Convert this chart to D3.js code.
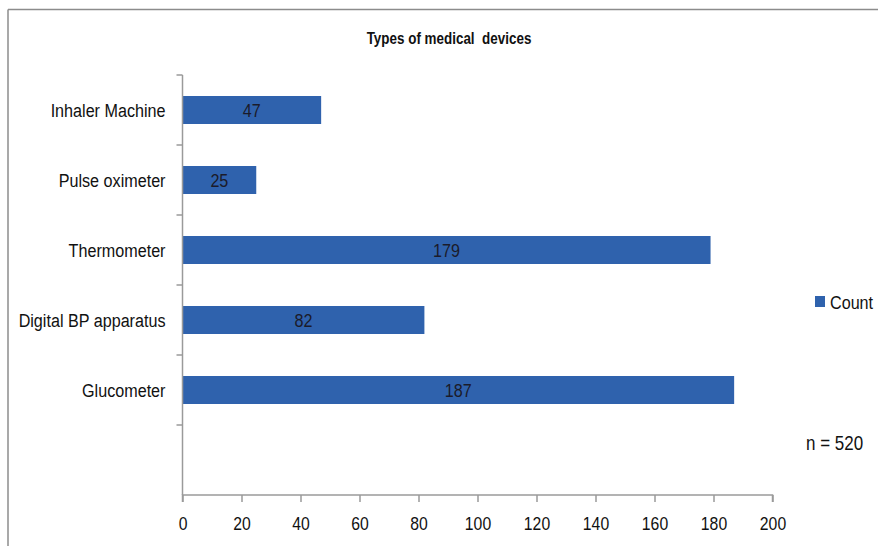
<!DOCTYPE html>
<html>
<head>
<meta charset="utf-8">
<script src="https://cdn.jsdelivr.net/npm/d3@7"></script>
<style>
  html, body { margin: 0; padding: 0; background: #fff; }
  svg { display: block; }
</style>
</head>
<body>
<svg id="chart" width="878" height="546"></svg>
<script>
// Device categories, bottom-to-top order in the plot (first slot is left empty)
const categories = ["", "Glucometer", "Digital BP apparatus", "Thermometer", "Pulse oximeter", "Inhaler Machine"];
const counts = [null, 187, 82, 179, 25, 47];
const xTicks = [0, 20, 40, 60, 80, 100, 120, 140, 160, 180, 200];
const title = "Types of medical  devices";
const seriesName = "Count";
const note = "n = 520";

const W = 878, H = 546;
const labelFont = "'Liberation Sans', Arial, sans-serif";
const barColor = "#2f62ad";
const axisColor = "#9a9a9a";

// Condense a text element horizontally about its anchor x position
function condense(sel, s) {
  sel.each(function () {
    const t = d3.select(this);
    const ax = +t.attr("x") || 0;
    t.attr("transform", `translate(${ax},0) scale(${s},1) translate(${-ax},0)`);
  });
}

const svg = d3.select("#chart");

// Frame lines along top and left
svg.append("line").attr("x1", 8).attr("x2", W).attr("y1", 9.5).attr("y2", 9.5)
  .attr("stroke", "#8c8c8c").attr("stroke-width", 1.5);
svg.append("line").attr("x1", 8).attr("x2", 8).attr("y1", 9.5).attr("y2", H)
  .attr("stroke", "#8c8c8c").attr("stroke-width", 1.5);

const plot = { left: 182.5, right: 772.5, top: 75, bottom: 495 };

const x = d3.scaleLinear().domain([0, 200]).range([plot.left, plot.right]);
const yBand = d3.scaleBand().domain(categories.map((c, i) => i))
  .range([plot.bottom, plot.top]);

// Title
svg.append("text")
  .attr("x", 449).attr("y", 38).attr("dy", "0.35em")
  .attr("text-anchor", "middle")
  .attr("font-family", labelFont)
  .attr("font-weight", "bold").attr("font-size", 16).attr("fill", "#111")
  .attr("xml:space", "preserve")
  .text(title)
  .call(condense, 0.84);

// Bars
const bars = categories.map((c, i) => ({ i, c, v: counts[i] })).filter(d => d.v != null);
const barH = 28;
svg.append("g").selectAll("rect").data(bars).join("rect")
  .attr("x", x(0))
  .attr("y", d => yBand(d.i) + yBand.bandwidth() / 2 - barH / 2)
  .attr("width", d => x(d.v) - x(0))
  .attr("height", barH)
  .attr("fill", barColor);

// Value labels centred in each bar
svg.append("g").selectAll("text").data(bars).join("text")
  .attr("x", d => (x(0) + x(d.v)) / 2)
  .attr("y", d => yBand(d.i) + yBand.bandwidth() / 2)
  .attr("dy", "0.35em").attr("text-anchor", "middle")
  .attr("font-family", labelFont).attr("font-size", 19).attr("fill", "#1b1b2a")
  .text(d => d.v)
  .call(condense, 0.85);

// Category axis: ticks at band boundaries
const yAxisG = svg.append("g");
yAxisG.append("line").attr("x1", plot.left).attr("x2", plot.left)
  .attr("y1", plot.top).attr("y2", plot.bottom).attr("stroke", axisColor).attr("stroke-width", 1.5);
const boundaries = categories.map((c, i) => yBand(i));
yAxisG.selectAll("line.tk").data(boundaries).join("line").attr("class", "tk")
  .attr("x1", plot.left - 6).attr("x2", plot.left)
  .attr("y1", d => d).attr("y2", d => d)
  .attr("stroke", axisColor).attr("stroke-width", 1.5);
yAxisG.selectAll("text").data(categories.map((c, i) => ({ c, i })).filter(d => d.c))
  .join("text")
  .attr("x", plot.left - 17)
  .attr("y", d => yBand(d.i) + yBand.bandwidth() / 2)
  .attr("dy", "0.35em").attr("text-anchor", "end")
  .attr("font-family", labelFont).attr("font-size", 19).attr("fill", "#111")
  .text(d => d.c)
  .call(condense, 0.85);

// Value axis
const xAxis = d3.axisBottom(x).tickValues(xTicks).tickSize(7).tickPadding(15).tickFormat(d3.format("d"));
const xg = svg.append("g").attr("transform", `translate(0,${plot.bottom})`).call(xAxis);
xg.select(".domain").attr("stroke", axisColor).attr("stroke-width", 1.5)
  .attr("d", `M${plot.left},7V0H${plot.right}V7`);
xg.selectAll(".tick line").attr("stroke", axisColor).attr("stroke-width", 1.5);
xg.selectAll(".tick text").attr("font-family", labelFont).attr("font-size", 19).attr("fill", "#111")
  .attr("transform", "scale(0.83,1)");

// Legend
svg.append("rect").attr("x", 815).attr("y", 296).attr("width", 10).attr("height", 11).attr("fill", barColor);
svg.append("text").attr("x", 830).attr("y", 302).attr("dy", "0.35em")
  .attr("font-family", labelFont).attr("font-size", 19).attr("fill", "#111")
  .text(seriesName)
  .call(condense, 0.85);

// Sample size note
svg.append("text").attr("x", 806).attr("y", 443).attr("dy", "0.35em")
  .attr("font-family", labelFont).attr("font-size", 20).attr("fill", "#111")
  .text(note)
  .call(condense, 0.85);
</script>
</body>
</html>
